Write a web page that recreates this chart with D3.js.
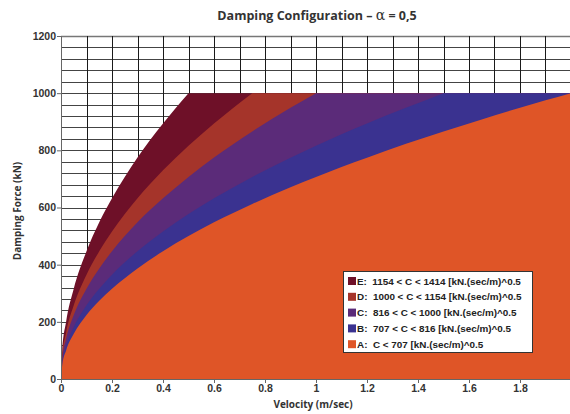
<!DOCTYPE html>
<html>
<head>
<meta charset="utf-8">
<script src="https://cdn.jsdelivr.net/npm/d3@7"></script>
<style>
  body { margin: 0; background: #fff; }
  svg { display: block; }
  text { font-family: "Liberation Sans", Arial, sans-serif; }
</style>
</head>
<body>
<div id="app"></div>
<script>
// velocity samples (m/sec) and force (kN)
const velocity = [0, 0.005, 0.02, 0.05, 0.1, 0.15, 0.2, 0.3, 0.4, 0.5, 0.6, 0.75, 0.9, 1.0, 1.1, 1.2, 1.35, 1.5, 1.65, 1.8, 1.9, 2.0]
const forceE = [0, 100, 200, 316, 447, 548, 632, 775, 894, 1000, 1000, 1000, 1000, 1000, 1000, 1000, 1000, 1000, 1000, 1000, 1000, 1000]
const forceD = [0, 82, 163, 258, 365, 447, 516, 632, 730, 816, 894, 1000, 1000, 1000, 1000, 1000, 1000, 1000, 1000, 1000, 1000, 1000]
const forceC = [0, 71, 141, 224, 316, 387, 447, 548, 632, 707, 775, 866, 949, 1000, 1000, 1000, 1000, 1000, 1000, 1000, 1000, 1000]
const forceB = [0, 58, 115, 182, 258, 316, 365, 447, 516, 577, 632, 707, 774, 816, 856, 894, 948, 1000, 1000, 1000, 1000, 1000]
const forceA = [0, 50, 100, 158, 224, 274, 316, 387, 447, 500, 548, 612, 671, 707, 742, 774, 822, 866, 908, 949, 975, 1000]

const seriesNames = ["E", "D", "C", "B", "A"]
const seriesForces = [forceE, forceD, forceC, forceB, forceA]
const colors = ["#6e1028", "#a5342a", "#5b2b79", "#3a3290", "#df5527"]
const legendLabels = [
  "E:  1154 < C < 1414 [kN.(sec/m)^0.5",
  "D:  1000 < C < 1154 [kN.(sec/m)^0.5",
  "C:  816 < C < 1000 [kN.(sec/m)^0.5",
  "B:  707 < C < 816 [kN.(sec/m)^0.5",
  "A:  C < 707 [kN.(sec/m)^0.5"
]
const xTicks = [0, 0.2, 0.4, 0.6, 0.8, 1, 1.2, 1.4, 1.6, 1.8]
const yTicks = [0, 200, 400, 600, 800, 1000, 1200]
const forceCap = 1000

const width = 570
const height = 414

const svg = d3.select('#app')
  .append('svg')
  .attr('width', width)
  .attr('height', height)

const x = d3.scaleLinear().domain([0, 2]).range([61, 571])
const y = d3.scaleLinear().domain([0, 1200]).range([379, 36])

// grid
const grid = svg.append('g').attr('class', 'grid')
grid.selectAll('line.h')
  .data(d3.range(40, 1201, 40))
  .enter()
  .append('line')
  .attr('class', 'h')
  .attr('x1', x(0))
  .attr('x2', x(2))
  .attr('y1', d => Math.round(y(d)) + 0.5)
  .attr('y2', d => Math.round(y(d)) + 0.5)
  .attr('stroke', d => d == 1200 ? '#777' : '#444')
  .attr('stroke-width', d => d == 1200 ? 1.5 : 1)

grid.selectAll('line.v')
  .data(d3.range(1, 20).map(d => d / 10))
  .enter()
  .append('line')
  .attr('class', 'v')
  .attr('y1', y(0))
  .attr('y2', y(1200))
  .attr('x1', d => Math.round(x(d)) + 0.5)
  .attr('x2', d => Math.round(x(d)) + 0.5)
  .attr('stroke', '#1a1a1a')

// each region: smooth rising part up to the cap, then flat along the cap
const rising = d3.line()
  .x(d => x(d[0]))
  .y(d => y(d[1]))
  .curve(d3.curveMonotoneX)

function regionPath(forces) {
  const pts = []
  for (let i = 0; i < velocity.length; i++) {
    pts.push([velocity[i], forces[i]])
    if (forces[i] >= forceCap) break
  }
  const last = velocity[velocity.length - 1]
  return rising(pts) +
    'L' + x(last) + ',' + y(forceCap) +
    'L' + x(last) + ',' + y(0) +
    'L' + x(0) + ',' + y(0) + 'Z'
}

// largest first so smaller ones sit on top
svg.append('g')
  .selectAll('path')
  .data(seriesForces)
  .enter()
  .append('path')
  .attr('d', d => regionPath(d))
  .attr('fill', (d, i) => colors[i])

// axes
const yAxis = svg.append('g')
  .attr('transform', 'translate(' + x(0) + ',0)')
  .call(d3.axisLeft(y).tickValues(yTicks).tickSize(4).tickPadding(1).tickFormat(d3.format('d')))
yAxis.select('.domain').attr('stroke', '#666')
yAxis.selectAll('.tick line').attr('stroke', '#666')
yAxis.selectAll('text')
  .attr('font-size', 10.5)
  .attr('font-weight', 'bold')
  .attr('fill', '#333')
  .attr('font-family', '"Liberation Sans", Arial, sans-serif')

const xAxis = svg.append('g')
  .attr('transform', 'translate(0,' + y(0) + ')')
  .call(d3.axisBottom(x).tickValues(xTicks).tickSize(4).tickPadding(2).tickFormat(d3.format('~g')))
xAxis.select('.domain').attr('stroke', '#666')
xAxis.selectAll('.tick line').attr('stroke', '#666')
xAxis.selectAll('text')
  .attr('font-size', 10.5)
  .attr('font-weight', 'bold')
  .attr('fill', '#333')
  .attr('font-family', '"Liberation Sans", Arial, sans-serif')

// titles
const title = svg.append('text')
  .attr('x', 317)
  .attr('y', 20)
  .attr('text-anchor', 'middle')
  .attr('font-size', 12.5)
  .attr('font-weight', 'bold')
  .attr('fill', '#333')
  .style('font-family', '"Open Sans", sans-serif')
title.append('tspan').text('Damping Configuration \u2013 ')
title.append('tspan').text('\u03b1')
  .attr('font-weight', 'normal')
  .attr('font-size', 14)
  .style('font-family', '"DejaVu Serif", serif')
title.append('tspan').text(' = 0,5')

svg.append('text')
  .attr('x', 313)
  .attr('y', 408)
  .attr('text-anchor', 'middle')
  .attr('font-size', 10)
  .attr('font-weight', 'bold')
  .attr('fill', '#333')
  .style('font-family', '"Open Sans", sans-serif')
  .text('Velocity (m/sec)')

svg.append('text')
  .attr('transform', 'translate(21,211) rotate(-90)')
  .attr('text-anchor', 'middle')
  .attr('font-size', 10)
  .attr('font-weight', 'bold')
  .attr('fill', '#333')
  .style('font-family', '"Open Sans", sans-serif')
  .text('Damping Force (kN)')

// legend
const legend = svg.append('g').attr('transform', 'translate(343,271)')
legend.append('rect')
  .attr('x', 0.5)
  .attr('y', 0.5)
  .attr('width', 189)
  .attr('height', 81)
  .attr('fill', '#fff')
  .attr('stroke', '#333')

const rows = legend.selectAll('g.row')
  .data(legendLabels)
  .enter()
  .append('g')
  .attr('class', 'row')
  .attr('transform', (d, i) => 'translate(0,' + (10 + i * 15.8) + ')')

rows.append('rect')
  .attr('x', 5)
  .attr('y', -4)
  .attr('width', 8)
  .attr('height', 8)
  .attr('fill', (d, i) => colors[i])

rows.append('text')
  .attr('x', 14)
  .attr('y', 3.5)
  .attr('font-size', 9.9)
  .attr('font-weight', 'bold')
  .attr('fill', '#222')
  .style('white-space', 'pre')
  .text(d => d)
</script>
</body>
</html>
